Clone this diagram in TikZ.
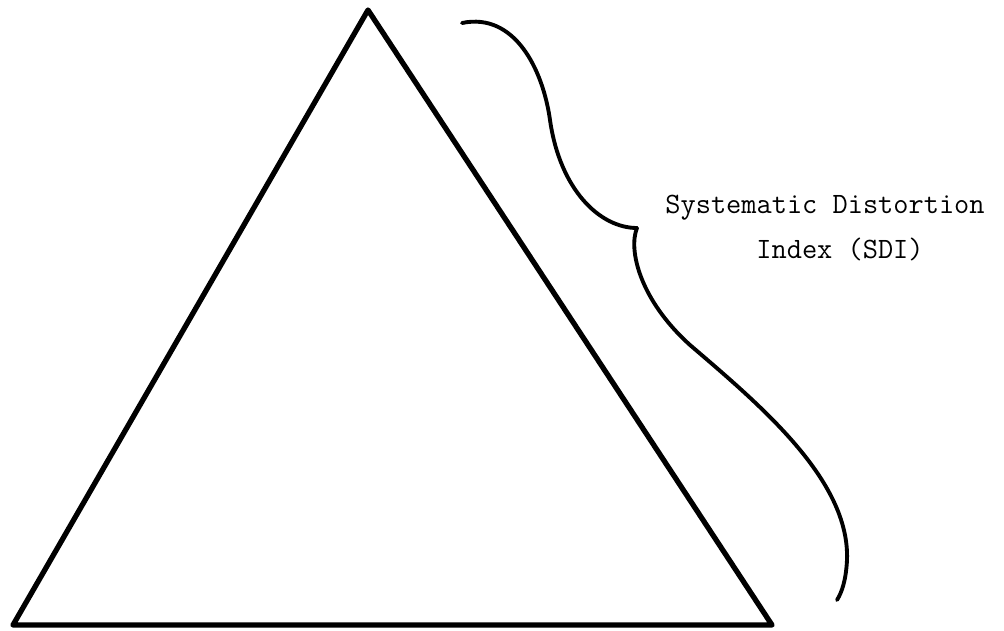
\documentclass[tikz,border=0pt]{standalone}
\usetikzlibrary{calc,positioning}

\begin{document}
\begin{tikzpicture}[x=0.02cm,y=-0.02cm,
  side/.style={line width=3pt, line join=round},
  brace/.style={line width=2.2pt, line cap=round, line join=round},
  label/.style={font=\ttfamily\fontsize{16.8}{20}\selectfont, inner sep=0pt, anchor=base}]
  \useasboundingbox (0,0) rectangle (1004,630);
  % triangle
  \coordinate(T) at (368,10);
  \coordinate(L) at (13,625);
  \coordinate(R) at (772,625);
  \draw[side](T)--(R)--(L)--cycle;
  % brace
  \coordinate(B0) at (462,23);
  \coordinate(B1) at (637,228);
  \coordinate(B2) at (837,600);
  \draw[brace](B0) .. controls (515,12) and (543,70) .. (550,120)
    .. controls (560,190) and (600,228) .. (B1);
  \draw[brace](B1) .. controls (628,250) and (640,300) .. (690,345)
    .. controls (760,405) and (850,480) .. (847,560)
    .. controls (846,580) and (842,592) .. (B2);
  \node[label] (sdi1) at (825,213) {Systematic Distortion};
  \node[label] (sdi2) at (840,258) {Index (SDI)};
\end{tikzpicture}
\end{document}
